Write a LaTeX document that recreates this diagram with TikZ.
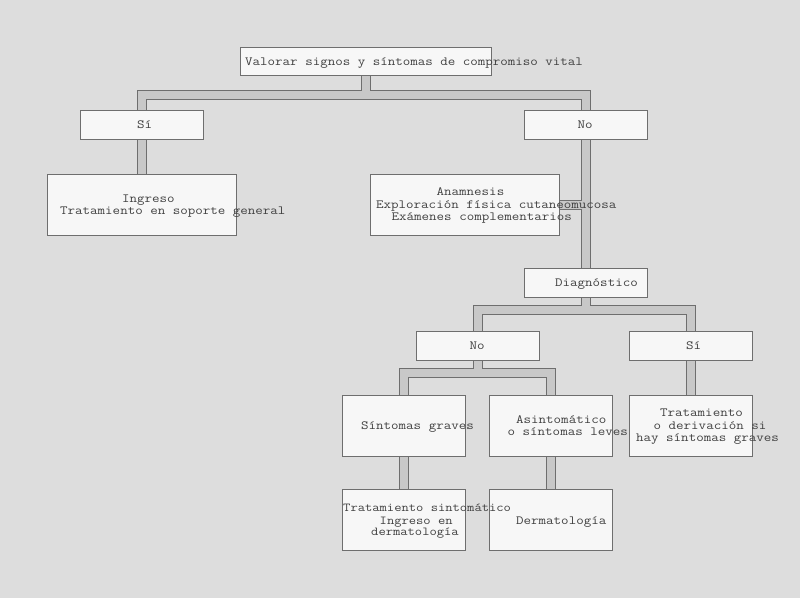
\documentclass[tikz,border=0pt]{standalone}
\usepackage{fontspec}
\newfontfamily\monofam[FakeStretch=1.166]{Latin Modern Mono}
\definecolor{bgc}{HTML}{DDDDDD}
\definecolor{boxfill}{HTML}{F7F7F7}
\definecolor{edgec}{HTML}{6E6E6E}
\definecolor{pipefill}{HTML}{C8C8C8}
\definecolor{txtc}{HTML}{404040}
\pgfdeclarelayer{bg}
\pgfsetlayers{bg,main}
\tikzset{
  box/.style={draw=edgec, line width=1pt, fill=boxfill, rectangle, inner sep=0pt},
  smallbox/.style={box, minimum width=123pt, minimum height=29pt},
  bigbox/.style={box, minimum width=123pt, minimum height=61pt},
  widebox/.style={box, minimum width=189pt, minimum height=61pt},
  txt/.style={anchor=base west, inner sep=0pt, text=txtc, font=\monofam\fontsize{12.5}{12.5}\selectfont},
  txtnarrow/.style={txt, font=\monofam\fontsize{12.15}{12.15}\selectfont},
  pipe/.style={draw=edgec, line width=1pt, double=pipefill, double distance=8pt, line join=miter}
}
\begin{document}
\begin{tikzpicture}[x=1pt, y=-1pt]
\useasboundingbox (0,0) rectangle (800,598);
\begin{pgfonlayer}{bg}
\fill[bgc] (0,0) rectangle (800,598);
\end{pgfonlayer}
% boxes
\node[box, minimum width=251pt, minimum height=28pt] (top) at (365.5,61) {};
\node[smallbox] (si1) at (141.5,124.5) {};
\node[smallbox] (no1) at (585.5,124.5) {};
\node[widebox] (ingreso) at (141.5,204.5) {};
\node[widebox] (anam) at (464.5,204.5) {};
\node[smallbox] (diag) at (585.5,282.5) {};
\node[smallbox] (no2) at (477.5,345.5) {};
\node[smallbox] (si2) at (690.5,345.5) {};
\node[bigbox] (graves) at (403.5,425.5) {};
\node[bigbox] (asint) at (550.5,425.5) {};
\node[bigbox] (trat) at (690.5,425.5) {};
\node[bigbox] (tsint) at (403.5,519.5) {};
\node[bigbox] (derm) at (550.5,519.5) {};
% junction levels
\coordinate (j1) at (0,94.5);
\coordinate (j2) at (0,309.5);
\coordinate (j3) at (0,372.5);
% pipes
\begin{pgfonlayer}{bg}
\draw[pipe]
  (top.south) -- (top.south |- j1)
  (ingreso.north) -- (ingreso.north |- j1) -| (diag.north)
  (anam.east) -- (anam.east -| diag.north)
  (diag.south) -- (diag.south |- j2)
  (no2.north) -- (no2.north |- j2) -| (trat.north)
  (no2.south) -- (no2.south |- j3)
  (tsint.north) -- (tsint.north |- j3) -| (derm.north);
\end{pgfonlayer}
% texts
\node[txt] (t1) at (245,65.7) {Valorar signos y síntomas de compromiso vital};
\node[txt] (t2) at (137,128) {Sí};
\node[txt] (t3) at (577.5,128) {No};
\node[txt] (t4) at (122,202) {Ingreso};
\node[txt] (t5) at (60,214.7) {Tratamiento en soporte general};
\node[txt] (t6) at (436.5,195.7) {Anamnesis};
\node[txt] (t7) at (376,208) {Exploración física cutaneomucosa};
\node[txt] (t8) at (391.5,220.7) {Exámenes complementarios};
\node[txt] (t9) at (555,286) {Diagnóstico};
\node[txt] (t10) at (469.5,349) {No};
\node[txt] (t11) at (686,349) {Sí};
\node[txt] (t12) at (361,429) {Síntomas graves};
\node[txt] (t13) at (516,423) {Asintomático};
\node[txt] (t14) at (507.5,435) {o síntomas leves};
\node[txt] (t15) at (660,416) {Tratamiento};
\node[txt] (t16) at (653.5,429) {o derivación si};
\node[txt] (t17) at (636,441) {hay síntomas graves};
\node[txtnarrow] (t18) at (343,511) {Tratamiento sintomático};
\node[txtnarrow] (t19) at (379.5,524.7) {Ingreso en};
\node[txtnarrow] (t20) at (371,535.7) {dermatología};
\node[txt] (t21) at (516,524) {Dermatología};
\end{tikzpicture}
\end{document}
